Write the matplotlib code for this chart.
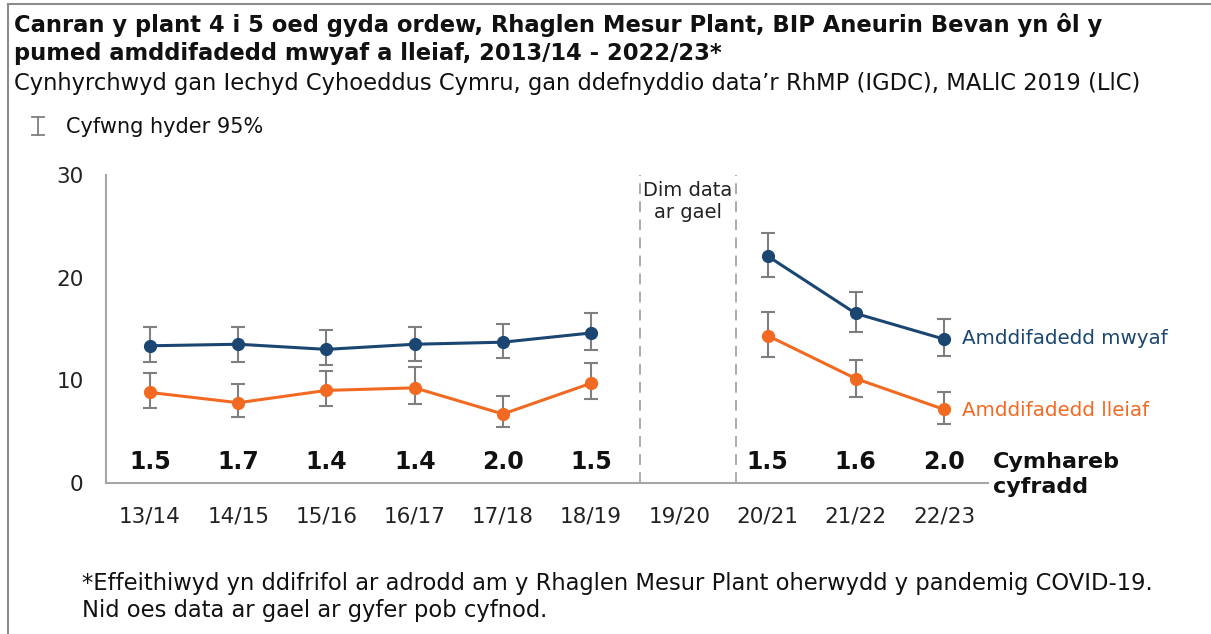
import numpy as np
import matplotlib
matplotlib.use('Agg')
import matplotlib.pyplot as plt
from matplotlib.lines import Line2D

# Data
years = ['13/14', '14/15', '15/16', '16/17', '17/18', '18/19', '19/20', '20/21', '21/22', '22/23']
most = [13.35, 13.5, 13.0, 13.5, 13.7, 14.6, np.nan, 22.1, 16.5, 14.0]
most_lo = [11.8, 11.8, 11.5, 11.9, 12.2, 12.9, np.nan, 20.1, 14.7, 12.35]
most_hi = [15.2, 15.2, 14.85, 15.2, 15.5, 16.5, np.nan, 24.3, 18.55, 16.0]
least = [8.8, 7.8, 9.0, 9.25, 6.7, 9.7, np.nan, 14.35, 10.15, 7.15]
least_lo = [7.25, 6.45, 7.5, 7.7, 5.45, 8.15, np.nan, 12.3, 8.4, 5.7]
least_hi = [10.7, 9.65, 10.9, 11.3, 8.5, 11.7, np.nan, 16.65, 12.0, 8.85]
ratios = ['1.5', '1.7', '1.4', '1.4', '2.0', '1.5', '', '1.5', '1.6', '2.0']

blue = '#1B4672'
orange = '#F26A22'
grey = '#7F7F7F'

fig = plt.figure(figsize=(12.11, 6.34), dpi=100)
ax = fig.add_axes([0.0875, 0.2386, 0.7284, 0.4854])

x = np.arange(len(years))
segments = [range(0, 6), range(7, 10)]
for vals, lo, hi, col in [(most, most_lo, most_hi, blue), (least, least_lo, least_hi, orange)]:
    v = np.array(vals)
    err = [v - np.array(lo), np.array(hi) - v]
    ax.errorbar(x, v, yerr=err, fmt='none', ecolor=grey, elinewidth=1.5, capsize=5, capthick=1.5, zorder=2)
    for seg in segments:
        idx = list(seg)
        ax.plot(x[idx], v[idx], color=col, lw=2.2, marker='o', ms=8.5, zorder=3)

# no-data band for 19/20
for xv in [5.55, 6.64]:
    ax.axvline(xv, color='#A6A6A6', lw=1.3, ls=(0, (6, 4)), zorder=1)
ax.text(6.095, 29.4, 'Dim data\nar gael', ha='center', va='top', fontsize=14, color='#222222', linespacing=1.2)

# rate ratios
for xi, r in zip(x, ratios):
    ax.text(xi, 2.0, r, ha='center', va='center', fontsize=17, fontweight='bold', color='#111111')
ax.text(9.56, 2.0, 'Cymhareb', ha='left', va='center', fontsize=16, fontweight='bold', color='#111111', clip_on=False)
ax.text(9.56, -0.45, 'cyfradd', ha='left', va='center', fontsize=16, fontweight='bold', color='#111111', clip_on=False)

# series labels
ax.text(9.2, most[-1] + 0.1, 'Amddifadedd mwyaf', color=blue, fontsize=14.3, va='center', ha='left')
ax.text(9.2, least[-1] - 0.1, 'Amddifadedd lleiaf', color=orange, fontsize=14.3, va='center', ha='left')

ax.set_xlim(-0.5, 9.5)
ax.set_ylim(0, 30)
ax.set_yticks([0, 10, 20, 30])
ax.set_xticks(x)
ax.set_xticklabels(years)
ax.tick_params(axis='both', length=0, labelsize=15.5, colors='#222222')
ax.tick_params(axis='x', pad=17)
ax.tick_params(axis='y', pad=16)
for s in ['top', 'right']:
    ax.spines[s].set_visible(False)
for s in ['left', 'bottom']:
    ax.spines[s].set_color('#A6A6A6')
    ax.spines[s].set_linewidth(1.5)

# titles
fig.text(0.0115, 0.9606, 'Canran y plant 4 i 5 oed gyda ordew, Rhaglen Mesur Plant, BIP Aneurin Bevan yn ôl y',
         ha='left', va='center', fontsize=16.3, fontweight='bold', color='#111111')
fig.text(0.0115, 0.9164, 'pumed amddifadedd mwyaf a lleiaf, 2013/14 - 2022/23*',
         ha='left', va='center', fontsize=16.3, fontweight='bold', color='#111111')
fig.text(0.0115, 0.869, 'Cynhyrchwyd gan Iechyd Cyhoeddus Cymru, gan ddefnyddio data\u2019r RhMP (IGDC), MALlC 2019 (LlC)',
         ha='left', va='center', fontsize=16.3, color='#111111')

# CI legend
fig.lines.append(Line2D([0.0315, 0.0315], [0.787, 0.815], color=grey, lw=1.3, transform=fig.transFigure))
for yy in [0.787, 0.815]:
    fig.lines.append(Line2D([0.0265, 0.0365], [yy, yy], color=grey, lw=1.3, transform=fig.transFigure))
fig.text(0.0545, 0.8, 'Cyfwng hyder 95%', ha='left', va='center', fontsize=15, color='#111111')

# footnote
fig.text(0.068, 0.058, '*Effeithiwyd yn ddifrifol ar adrodd am y Rhaglen Mesur Plant oherwydd y pandemig COVID-19.\n'
         'Nid oes data ar gael ar gyfer pob cyfnod.',
         ha='left', va='center', fontsize=16.3, color='#111111', linespacing=1.2)

# outer frame (top and left edges visible)
fig.lines.append(Line2D([0.0066, 0.0066], [0, 0.994], color='#8C8C8C', lw=1.5, transform=fig.transFigure))
fig.lines.append(Line2D([0.0066, 1.0], [0.994, 0.994], color='#8C8C8C', lw=1.5, transform=fig.transFigure))

fig.savefig('out.png', dpi=100, facecolor='white')
